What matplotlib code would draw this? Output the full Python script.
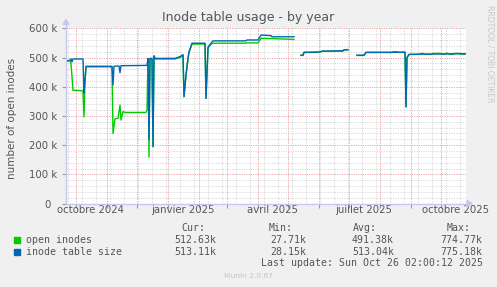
import datetime as dt
import numpy as np
import matplotlib
matplotlib.use("Agg")
import matplotlib.pyplot as plt
import matplotlib.dates as mdates

# data: day offsets from graph start, values in thousands (nan = no data)
start = dt.datetime(2024, 9, 21, 2, 0)
end = dt.datetime(2025, 10, 26, 2, 0, 12)

size_days = [1, 4, 5, 6, 7, 17, 18, 19, 20, 46, 47, 48, 53, 54, 55, 81, 82, 83, 84, 86,
             87, 88, 89, 109, 114, 117, 118, 120, 122, 123, 126, 139, 140, 142, 145, 147,
             180, 181, 192, 195, 205, 206, 228, 231, 235, 237, 238, 254, 256, 277, 278, 282,
             286, 291, 298, 300, 339, 340, 341, 343, 400]
size_vals = [488, 490, 495, 485, 495, 495, 378, 420, 470, 470, 406, 470, 471, 448, 472, 473, 497, 220, 497, 497,
             195, 506, 497, 497, 503, 510, 366, 440, 497, 520, 549, 549, 360, 535, 549, 557,
             557, 560, 560, 577, 575, 571, 571, np.nan, 508, 508, 518, 519, 522, 523, 526, 526,
             np.nan, 508, 508, 518, 518, 332, 500, 511, 513.11]

open_days = [1, 4, 5, 7, 17, 18, 19, 20, 46, 47, 49, 52, 54, 55, 57, 59, 80, 81, 82, 83,
             84, 86, 87, 88, 89, 109, 114, 117, 118, 120, 122, 123, 126, 139, 140, 142, 145, 147,
             180, 181, 192, 195, 228, 231, 235, 237, 238, 254, 256, 277, 278, 282,
             286, 291, 298, 300, 326, 327, 332, 333, 338, 339, 340, 341, 343,
             354, 355, 357, 358, 366, 367, 374, 375, 379, 380, 382, 383, 387, 388, 394, 395, 400]
open_vals = [488, 490, 480, 388, 386, 297, 420, 468, 468, 240, 290, 292, 337, 286, 315, 312, 312, 320, 495, 160,
             495, 495, 195, 504, 495, 495, 500, 507, 366, 440, 495, 517, 546, 546, 360, 533, 545, 549,
             549, 550, 550, 566, 562, np.nan, 507, 507, 517, 518, 521, 522, 527, 527,
             np.nan, 507, 507, 517, 517, 520, 520, 517, 519, 518, 330, 499, 510,
             511, 514, 514, 511, 511, 514, 514, 511, 511, 514, 514, 511, 511, 514, 514, 511, 512.63]

series_names = ["open inodes", "inode table size"]
cur_vals = ["512.63k", "513.11k"]
min_vals = ["27.71k", "28.15k"]
avg_vals = ["491.38k", "513.04k"]
max_vals = ["774.77k", "775.18k"]
y_ticks = [0, 100, 200, 300, 400, 500, 600]
y_labels = ["0  ", "100 k", "200 k", "300 k", "400 k", "500 k", "600 k"]
x_labels = ["octobre 2024", "janvier 2025", "avril 2025", "juillet 2025", "octobre 2025"]

GREEN = "#00CC00"
BLUE = "#0066B3"
TXT = "#555555"

W, H = 497, 287
fig = plt.figure(figsize=(W / 100, H / 100), dpi=100, facecolor="#F0F0F0")
x0, x1, ytop, ybot = 66, 466, 28.3, 203.6
ax = fig.add_axes([x0 / W, 1 - ybot / H, (x1 - x0) / W, (ybot - ytop) / H])
ax.set_facecolor("white")

t0 = mdates.date2num(start)
ax.set_xlim(t0, t0 + 400)
ax.set_ylim(0, 600)

# grid
for v in range(0, 601, 20):
    major = v % 100 == 0
    ax.axhline(v, color="#EBA4A4" if major else "#DADADA", lw=0.7,
               ls=(0, (1.2, 1.2)), zorder=1 if major else 0)
months = [dt.datetime(2024 + (9 + i) // 12, (9 + i) % 12 + 1, 1) for i in range(13)]
d = dt.datetime(2024, 9, 23)
while d < end:
    ax.axvline(mdates.date2num(d), color="#DADADA", lw=0.7, ls=(0, (1.2, 1.2)), zorder=0)
    d += dt.timedelta(days=14)
for m in months:
    ax.axvline(mdates.date2num(m), color="#EBA4A4", lw=0.7, ls=(0, (1.2, 1.2)), zorder=1)

# data lines
ax.plot(t0 + np.array(open_days), open_vals, color=GREEN, lw=1.0, zorder=3)
ax.plot(t0 + np.array(size_days), size_vals, color=BLUE, lw=1.0, zorder=4)

for s in ax.spines.values():
    s.set_visible(False)
ax.set_yticks(y_ticks)
ax.set_yticklabels(y_labels)
ax.set_xticks([mdates.date2num(m) for m in months])
ax.set_xticklabels([])
ax.tick_params(axis="both", length=3, width=0.8, color="#999999", labelsize=7.3,
               labelcolor=TXT, pad=3)

for i, lab in enumerate(x_labels):
    m = dt.datetime(2024 + (9 + 3 * i) // 12, (9 + 3 * i) % 12 + 1, 16)
    ax.text(mdates.date2num(m), -5, lab, ha="center", va="top", fontsize=7.3, color=TXT)

# axes with arrows
axc = "#C4C8F0"
fig.add_artist(plt.Line2D([x0 / W, 469 / W], [1 - ybot / H] * 2, color=axc, lw=1))
fig.add_artist(plt.Line2D([x0 / W] * 2, [1 - ybot / H, 1 - 22 / H], color=axc, lw=1))
fig.add_artist(plt.Polygon([[467 / W, 1 - 200.5 / H], [467 / W, 1 - 206.5 / H], [472 / W, 1 - ybot / H]],
                           closed=True, color=axc, transform=fig.transFigure))
fig.add_artist(plt.Polygon([[63 / W, 1 - 24.5 / H], [69 / W, 1 - 24.5 / H], [x0 / W, 1 - 19.5 / H]],
                           closed=True, color=axc, transform=fig.transFigure))

fig.text(248.5 / W, 1 - 18 / H, "Inode table usage - by year", ha="center", va="center",
         fontsize=9.0, color=TXT)
fig.text(12 / W, 1 - 118 / H, "number of open inodes", rotation=90, ha="center", va="center",
         fontsize=7.5, color=TXT)
fig.text(490 / W, 1 - 54 / H, "RRDTOOL / TOBI OETIKER", rotation=270, ha="center", va="center",
         fontsize=5.5, color="#C8C8C8")

# legend block
mono = dict(family="DejaVu Sans Mono", fontsize=7.15, color=TXT, va="center")
for x, h in zip([181.7, 269, 352.7, 446.7], ["Cur:", "Min:", "Avg:", "Max:"]):
    fig.text(x / W, 1 - 228 / H, h, ha="left", **mono)
for r, (name, col) in enumerate(zip(series_names, [GREEN, BLUE])):
    y = 240 + r * 11.7
    fig.add_artist(plt.Rectangle((14 / W, 1 - (y + 3) / H), 6 / W, 6 / H, color=col,
                                 transform=fig.transFigure))
    fig.text(26 / W, 1 - y / H, name, ha="left", **mono)
    for x, vals in zip([216.7, 306, 394, 482.7], [cur_vals, min_vals, avg_vals, max_vals]):
        fig.text(x / W, 1 - y / H, vals[r], ha="right", **mono)
fig.text(482.7 / W, 1 - 263.3 / H, "Last update: Sun Oct 26 02:00:12 2025", ha="right", **mono)
fig.text(248 / W, 1 - 276 / H, "Munin 2.0.67", ha="center", va="center", fontsize=5.4,
         color="#C4C4C4")

fig.savefig("out.png", dpi=100, facecolor=fig.get_facecolor())
